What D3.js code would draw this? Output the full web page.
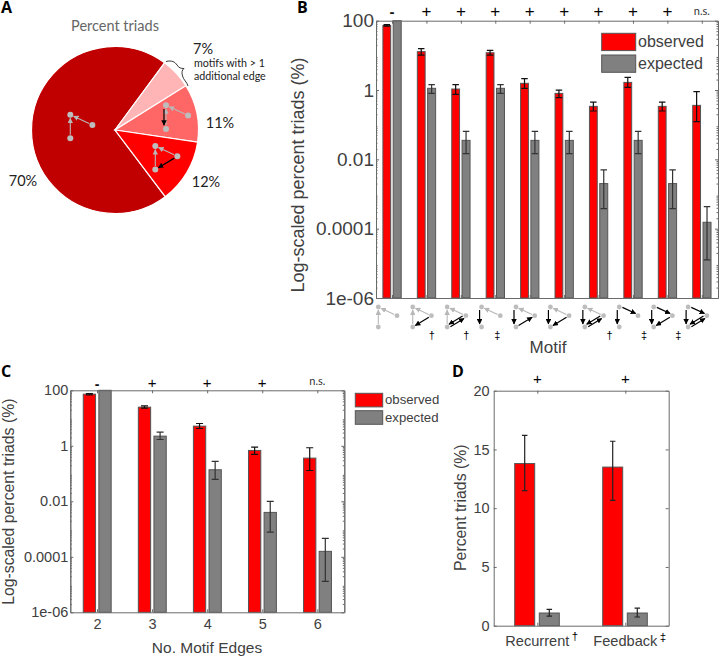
<!DOCTYPE html>
<html><head><meta charset="utf-8">
<script src="https://cdn.jsdelivr.net/npm/d3@7"></script>
<style>html,body{margin:0;padding:0;background:#fff}svg{display:block}text{font-family:"Liberation Sans",Arial,sans-serif}</style>
</head><body><svg id="c" width="720" height="657"></svg>
<script>
// ---- data ----
const pieValues=[70.4,6,11.2,12.4];
const pieLabels=["70%","7%","11%","12%"];
const pieColors=["#c00000","#ffb5b5","#ff6666","#ff0000"];

const motifObs=[73,12.8,1.07,11.9,1.56,0.8,0.338,1.66,0.338,0.361];
const motifObsHi=[76.7,15.6,1.43,13.9,2.12,1.0,0.45,2.32,0.45,0.895];
const motifObsLo=[70,10.2,0.75,10.2,1.12,0.6,0.248,1.19,0.248,0.122];
const motifExp=[100,1.12,0.0353,1.12,0.0353,0.0353,0.002,0.0353,0.002,0.000153];
const motifExpHi=[null,1.43,0.0643,1.43,0.0643,0.0643,0.005,0.0643,0.005,0.00043];
const motifExpLo=[null,0.8,0.01455,0.8,0.01455,0.01455,0.000377,0.01455,0.000377,0.0000126];
const motifSig=["-","+","+","+","+","+","+","+","+","n.s."];
const motifMark=["","†","†","‡","","","†","‡","‡",""];
const motifEdges=[
 ["gRT","gBT"],["gRT","gBT","kRB"],["gRT","gBT","dRB"],["gRT","kTB"],["gRT","kTB","kBR"],
 ["gRT","kTB","kRB"],["gRT","kTB","dRB"],["kTR","kTB"],["kTR","kTB","kRB"],["kTR","kTB","dRB"]];

const edgeCats=[2,3,4,5,6];
const edgeObs=[72.6,24.7,5.11,0.68,0.36];
const edgeObsHi=[76.7,27.6,6.37,0.895,0.85];
const edgeObsLo=[68.7,22.7,4.2,0.487,0.129];
const edgeExp=[100,2.23,0.137,0.00398,0.000157];
const edgeExpHi=[null,3.1,0.273,0.0099,0.00046];
const edgeExpLo=[null,1.69,0.0613,0.00078,0.000013];
const edgeSig=["-","+","+","+","n.s."];

const typeCats=["Recurrent","Feedback"];
const typeMarks=["†","‡"];
const typeObs=[13.8,13.5];
const typeObsHi=[16.2,15.7];
const typeObsLo=[11.5,10.67];
const typeExp=[1.08,1.08];
const typeExpHi=[1.39,1.5];
const typeExpLo=[0.82,0.74];
const typeSig=["+","+"];

const logTicks=[100,1,0.01,0.0001,0.000001];
const logTickLabels=["100","1","0.01","0.0001","1e-06"];
const linTicks=[0,5,10,15,20];
const seriesNames=["observed","expected"];

// ---- helpers ----
const RED="#ff0000",GREY="#808080",EDGE="#555",TXT="#404040",AX="#6a6a6a";
const svg=d3.select("#c");
const defs=svg.append("defs");
[["ag","#b8b8b8"],["ak","#000"]].forEach(([id,c])=>{
  defs.append("marker").attr("id",id).attr("viewBox","0 0 10 10").attr("refX",9).attr("refY",5)
   .attr("markerUnits","userSpaceOnUse").attr("markerWidth",5.5).attr("markerHeight",5.5).attr("orient","auto")
   .append("path").attr("d","M0,0L10,5L0,10Z").attr("fill",c);
});
function label(x,y,t,o={}){
  return svg.append("text").attr("x",x).attr("y",y).attr("dy",o.dy??"0.35em").text(t)
   .attr("text-anchor",o.anchor||"middle").attr("font-size",o.size||14).attr("fill",o.fill||TXT)
   .attr("font-weight",o.weight||null).style("font-family",o.family||null)
   .attr("transform",o.rot?`rotate(${o.rot} ${x} ${y})`:null);
}
function minors(){const a=[];for(let e=-6;e<2;e++)for(let m=2;m<10;m++)a.push(m*10**e);return a;}
function frame(g,x,y,xt,yt,yfmt,opt){
  const [x0,x1]=x.range(),[y1,y0]=y.range();
  const st=s=>{s.selectAll("path,line").attr("stroke",AX).attr("stroke-width",1);s.selectAll("text").attr("fill",TXT).attr("font-size",opt.tick).style("font-family",'"Liberation Sans"');};
  g.append("g").attr("transform",`translate(${x0},0)`).call(d3.axisLeft(y).tickValues(yt).tickSize(-3).tickSizeOuter(0).tickFormat(yfmt).tickPadding(opt.pad||3)).call(st);
  g.append("g").attr("transform",`translate(${x1},0)`).call(d3.axisRight(y).tickValues(yt).tickSize(-3).tickSizeOuter(0).tickFormat("")).call(st);
  g.append("g").attr("transform",`translate(0,${y1})`).call(d3.axisBottom(x).tickValues(xt).tickSize(-3).tickSizeOuter(0).tickFormat(opt.xfmt||"").tickPadding(opt.xpad||3)).call(st);
  g.append("g").attr("transform",`translate(0,${y0})`).call(d3.axisTop(x).tickValues(xt).tickSize(-3).tickSizeOuter(0).tickFormat("")).call(st);
  if(opt.log){
    g.append("g").attr("transform",`translate(${x0},0)`).call(d3.axisLeft(y).tickValues(minors()).tickSize(-1.5).tickSizeOuter(0).tickFormat("")).call(st);
    g.append("g").attr("transform",`translate(${x1},0)`).call(d3.axisRight(y).tickValues(minors()).tickSize(-1.5).tickSizeOuter(0).tickFormat("")).call(st);
  }
}
function bars(g,xs,vals,y,base,w,col){
  g.selectAll(null).data(vals).join("rect").attr("x",(d,i)=>xs(i)-w/2).attr("width",w)
   .attr("y",d=>y(d)).attr("height",d=>y(base)-y(d)).attr("fill",col).attr("stroke",EDGE).attr("stroke-width",1);
}
function errs(g,xs,hi,lo,y,cap,col){
  hi.forEach((h,i)=>{ if(h==null) return; const c=xs(i),a=y(h),b=y(lo[i]);
    const p=g.append("path").attr("d",`M${c-cap/2},${a}H${c+cap/2}M${c},${a}V${b}M${c-cap/2},${b}H${c+cap/2}`)
      .attr("fill","none").attr("stroke",col).attr("stroke-width",1.2);
  });
}
function glyph(cx,cy,edges,s,nr){
  // node layout of a triad, relative to its top-left node
  const N={T:[0,0],R:[18.7*s,8.7*s],B:[0,20*s]};
  const g=svg.append("g").attr("transform",`translate(${cx},${cy})`);
  const line=(a,b,off,col,m,w)=>{
    const dx=b[0]-a[0],dy=b[1]-a[1],L=Math.hypot(dx,dy),ux=dx/L,uy=dy/L,nx=-uy*off,ny=ux*off,t=nr+0.6;
    g.append("line").attr("x1",a[0]+nx+ux*t).attr("y1",a[1]+ny+uy*t).attr("x2",b[0]+nx-ux*t).attr("y2",b[1]+ny-uy*t)
     .attr("stroke",col).attr("stroke-width",w).attr("marker-end",`url(#${m})`);
  };
  const later=[];
  edges.forEach(e=>{
    const a=N[e[1]],b=N[e[2]];
    if(e[0]==="g") line(a,b,0,"#b8b8b8","ag",1.1);
    else later.push([e[0],a,b,e[1]+e[2]]);
  });
  Object.values(N).forEach(p=>g.append("circle").attr("cx",p[0]).attr("cy",p[1]).attr("r",nr).attr("fill","#bdbdbd"));
  later.forEach(([k,a,b,n])=>{
    if(k==="d"){ line(a,b,1.4,"#000","ak",1.2); line(b,a,1.4,"#000","ak",1.2); }
    else line(a,b,n==="TB"?2:(n==="TR"?-1:0),"#000","ak",1.2);
  });
}
function legend(x,y1,y2,w,h,tx,size){
  [[y1,RED],[y2,GREY]].forEach(([y,c],i)=>{
    svg.append("rect").attr("x",x).attr("y",y).attr("width",w).attr("height",h).attr("fill",c).attr("stroke",EDGE);
    label(tx,y+h/2-0.5,seriesNames[i],{anchor:"start",size});
  });
}

// ---- Panel A ----
label(1,13,"A",{anchor:"start",size:16,weight:700,fill:"#000",family:"Open Sans",dy:0});
label(115,26,"Percent triads",{size:14.5,fill:"#666",family:"Lato"});
const pie=d3.pie().sort(null).startAngle(143*Math.PI/180).endAngle((143+360)*Math.PI/180)(pieValues);
const arc=d3.arc().innerRadius(0).outerRadius(83.5);
svg.append("g").attr("transform","translate(115,130)").selectAll("path").data(pie).join("path")
  .attr("d",arc).attr("fill",(d,i)=>pieColors[i]).attr("stroke","#fff").attr("stroke-width",1.2);
glyph(70.3,114.7,motifEdges[0],1.18,3);
glyph(166,105.3,["gRT","gBT","kTB"],1.18,3);
glyph(155.3,146,["gRT","gBT","kRB"],1.18,3);
label(23,181,pieLabels[0],{size:14.5,fill:"#222",family:"Lato"});
label(203,49,pieLabels[1],{size:14.5,fill:"#222",family:"Lato"});
label(220,123,pieLabels[2],{size:14.5,fill:"#222",family:"Lato"});
label(206,182,pieLabels[3],{size:14.5,fill:"#222",family:"Lato"});
label(194,63,"motifs with > 1",{anchor:"start",size:10.7,fill:"#222",family:"Lato"});
label(194,76.5,"additional edge",{anchor:"start",size:10.7,fill:"#222",family:"Lato"});
svg.append("path").attr("d","M166,61.5C172,60 175,62 177,65C179,68 181,68.5 184,68.5C182,70 181.5,72 182.5,76C183.5,80 187,82 188,86")
  .attr("fill","none").attr("stroke","#222").attr("stroke-width",0.9);

// ---- Panel B ----
label(297,13,"B",{anchor:"start",size:16,weight:700,fill:"#000",family:"Open Sans",dy:0});
const gB=svg.append("g");
const xB=d3.scaleLinear().domain([0.535,10.47]).range([376,718]);
const yB=d3.scaleLog().domain([1e-6,100]).range([298,20.7]);
const idx=motifObs.map((d,i)=>i+1);
bars(gB,i=>xB(i+1)-5.2,motifObs,yB,1e-6,7.8,RED);
bars(gB,i=>xB(i+1)+5.2,motifExp,yB,1e-6,8,GREY);
errs(gB,i=>xB(i+1)-5.2,motifObsHi,motifObsLo,yB,6.5,"#111");
errs(gB,i=>xB(i+1)+5.2,motifExpHi,motifExpLo,yB,6.5,"#333");
frame(gB,xB,yB,idx,logTicks,(d,i)=>logTickLabels[i],{tick:19,log:true,pad:2});
motifSig.forEach((s,i)=>{
  if(s==="n.s.") label(xB(i+1),11,s,{size:11,fill:"#333",family:"Lato"});
  else if(s==="-") label(xB(i+1),12,s,{size:15,weight:700,fill:"#111"});
  else label(xB(i+1),11.5,s,{size:17,fill:"#000"});
  glyph(xB(i+1)-13.7,307,motifEdges[i],1,2.4);
  if(motifMark[i]) label(xB(i+1)+(i===3?2:(i<3?5.5:11)),335,motifMark[i],{size:11,fill:"#000"});
});
label(298,175,"Log-scaled percent triads (%)",{size:18,rot:-90});
label(548,347,"Motif",{size:17});
legend(601.7,33.3,55,34,17.3,638,16);

// ---- Panel C ----
label(1,377,"C",{anchor:"start",size:16,weight:700,fill:"#000",family:"Open Sans",dy:0});
const gC=svg.append("g");
const xC=d3.scaleLinear().domain([1.515,6.49]).range([70.3,344.3]);
const yC=d3.scaleLog().domain([1e-6,100]).range([612.3,390.3]);
bars(gC,i=>xC(edgeCats[i])-7.6,edgeObs,yC,1e-6,12.3,RED);
bars(gC,i=>xC(edgeCats[i])+8,edgeExp,yC,1e-6,12.3,GREY);
errs(gC,i=>xC(edgeCats[i])-7.6,edgeObsHi,edgeObsLo,yC,7,"#111");
errs(gC,i=>xC(edgeCats[i])+8,edgeExpHi,edgeExpLo,yC,7,"#333");
frame(gC,xC,yC,edgeCats,logTicks,(d,i)=>logTickLabels[i],{tick:14.5,log:true,pad:2,xfmt:d3.format("d"),xpad:6});
edgeSig.forEach((s,i)=>{
  const x=xC(edgeCats[i]);
  if(s==="n.s.") label(x,380.7,s,{size:11,fill:"#333",family:"Lato"});
  else if(s==="-") label(x,384,s,{size:14,weight:700,fill:"#111"});
  else label(x,382.5,s,{size:15,fill:"#000"});
});
label(8.5,501.7,"Log-scaled percent triads (%)",{size:15.8,rot:-90});
label(207,647.5,"No. Motif Edges",{size:15.5});
legend(355.3,393.3,410.7,27.4,13.6,385,13.2);

// ---- Panel D ----
label(452,377,"D",{anchor:"start",size:16,weight:700,fill:"#000",family:"Open Sans",dy:0});
const gD=svg.append("g");
const xD=d3.scalePoint().domain(typeCats).range([537.3,625.3]);
const xDa=d3.scaleLinear().domain([0,1]).range([537.3,625.3]);
const yD=d3.scaleLinear().domain([0,20]).range([625.7,390.7]);
bars(gD,i=>xD(typeCats[i])-12.6,typeObs,yD,0,20,RED);
bars(gD,i=>xD(typeCats[i])+12,typeExp,yD,0,20,GREY);
errs(gD,i=>xD(typeCats[i])-12.6,typeObsHi,typeObsLo,yD,5.5,"#222");
errs(gD,i=>xD(typeCats[i])+12,typeExpHi,typeExpLo,yD,5.5,"#222");
const xD2=d3.scaleLinear().domain([537.3,625.3]).range([537.3,625.3]);
const xDbox=d3.scaleLinear().domain([493.7,668.7]).range([493.7,668.7]);
frame(gD,xDbox,yD,[537.3,625.3],linTicks,d3.format("d"),{tick:14.5,pad:4});
typeCats.forEach((c,i)=>{
  label(xD(c),640.7,c,{size:14.6});
  label(xD(c),379,typeSig[i],{size:15,fill:"#000"});
});
label(575,636,typeMarks[0],{size:11.5,fill:"#000"});
label(663,636.5,typeMarks[1],{size:11.5,fill:"#000"});
label(460.7,507.7,"Percent triads (%)",{size:15.8,rot:-90});
</script></body></html>
